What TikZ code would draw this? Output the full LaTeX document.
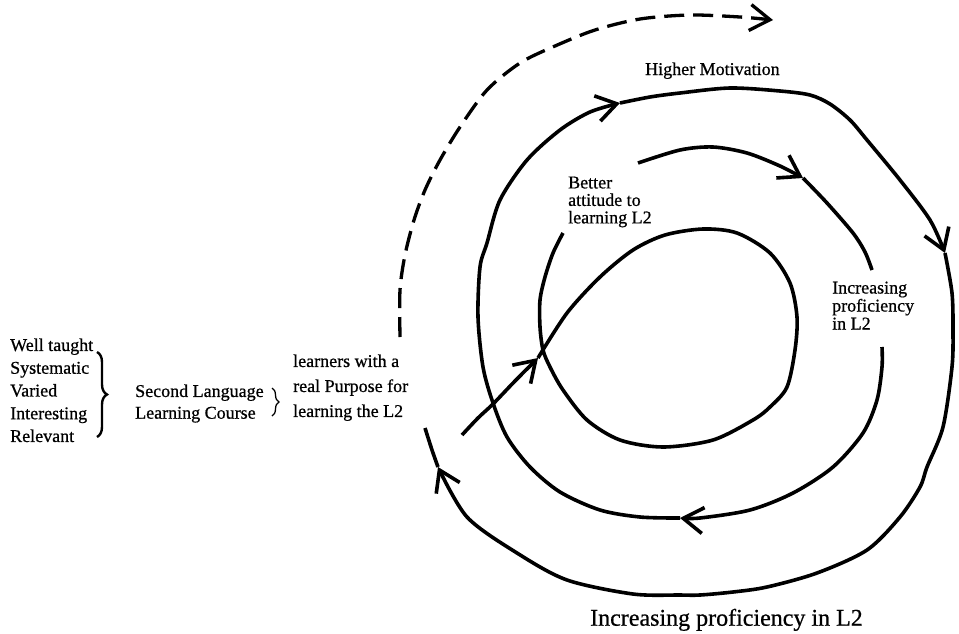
\documentclass[tikz,border=0pt]{standalone}
\usepackage{fontspec}
\setmainfont{Liberation Serif}[FakeBold=0.7]
\usetikzlibrary{arrows.meta,decorations.pathreplacing}
\begin{document}
\begin{tikzpicture}[x=1pt,y=-1pt,
  spiral/.style={line width=3.6pt},
  barb/.style={-{Straight Barb[length=20pt,width=26pt]}},
  lab/.style={inner sep=0pt, align=left, anchor=north west, font=\fontsize{18}{18}\selectfont},
  curly/.style={decorate, decoration={brace, amplitude=#1}},
  dashline/.style={line width=3.3pt, dash pattern=on 20pt off 9pt},
]
\useasboundingbox (0,0) rectangle (959,633);

% left-hand texts and braces
\node[lab, font=\fontsize{18}{22.75}\selectfont] (qualities) at (10,338.3)
  {Well taught\\Systematic\\Varied\\Interesting\\Relevant};
\draw[curly=10pt, line width=2.4pt] (97,352) -- (97,437);
\node[lab, font=\fontsize{18}{21.7}\selectfont] (course) at (135,384.3)
  {Second Language\\Learning Course};
\draw[curly=7pt, line width=1.3pt] (272,388) -- (272,416);
\node[lab, font=\fontsize{18}{25}\selectfont] (learners) at (293,354.3)
  {learners with a\\real Purpose for\\learning the L2};

% labels inside the spiral
\node[inner sep=0pt, anchor=base west, font=\fontsize{18}{18}\selectfont] (motivation) at (645,75) {Higher Motivation};
\node[lab, font=\fontsize{18}{17.5}\selectfont] (attitude) at (568,176.4) {Better\\attitude to\\learning L2};
\node[lab, font=\fontsize{18}{18}\selectfont] (profA) at (832,281.4) {Increasing\\proficiency\\in L2};
\node[inner sep=0pt, anchor=base west, font=\fontsize{24}{24}\selectfont] (profB) at (590,625.7) {Increasing proficiency in L2};

% dashed arrow leaving the spiral
\draw[dashline, barb] plot[smooth] coordinates {(400,337) (400,290) (405,255) (414,220) (425,190) (440,160) (460,127) (487,90) (520,63) (555,46) (595,30) (640,19) (690,15) (740,17) (773,20)};

% the spiral, from the centre outwards
\draw[spiral, barb] plot[smooth] coordinates {(462,435) (478,418) (493,404) (515,381) (538,358)};
\draw[spiral] plot[smooth] coordinates {(538,358) (567,313) (600,277) (633,250) (665,235) (703,229) (737,233) (770,253) (790,283) (797,317) (795,350) (787,387) (770,407) (753,420) (713,440) (663,447) (620,440) (587,420) (563,390) (550,367) (543,350) (540,327) (540,300) (545,277) (553,253) (563,233)};
\draw[spiral, barb] plot[smooth] coordinates {(638,163) (680,150) (713,147) (747,153) (780,166) (803,178)};
\draw[spiral] plot[smooth] coordinates {(803,178) (827,203) (853,233) (865,252) (872,270)};
\draw[spiral, barb] plot[smooth] coordinates {(882,347) (882,367) (877,400) (863,433) (833,467) (793,493) (750,510) (700,518) (680,518)};
\draw[spiral, barb] plot[smooth] coordinates {(680,518) (640,517) (600,510) (560,492) (530,467) (507,437) (493,403) (483,367) (478,317) (480,267) (487,243) (500,200) (527,160) (560,130) (590,112) (620,103)};
\draw[spiral, barb] plot[smooth] coordinates {(620,103) (650,97) (680,93) (730,88) (780,91) (810,95) (830,104) (850,120) (867,140) (900,180) (930,220) (945,253)};
\draw[spiral, barb] plot[smooth] coordinates {(945,253) (952,293) (953,330) (952,367) (943,427) (927,467) (920,487) (900,517) (867,550) (817,573) (767,587) (733,592) (700,595) (680,595) (633,594) (567,580) (517,553) (467,517) (438,467)};
\draw[spiral] plot[smooth] coordinates {(438,467) (432,450) (425,428)};
\end{tikzpicture}
\end{document}
